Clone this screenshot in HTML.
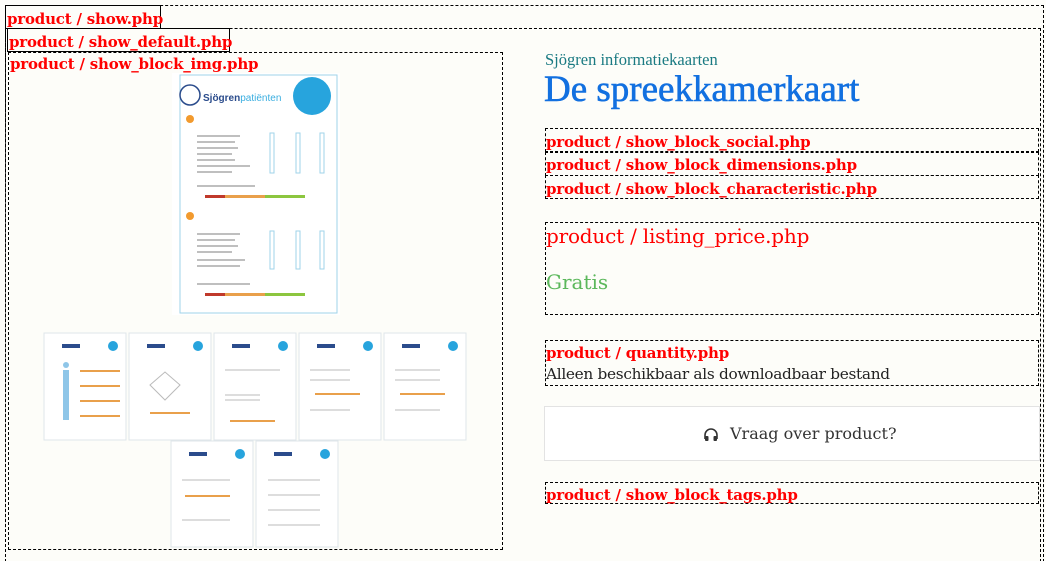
<!DOCTYPE html>
<html><head><meta charset="utf-8"><style>
html,body{margin:0;width:1046px;height:561px;overflow:hidden}
body{background:#fdfdf9;position:relative;font-family:"DejaVu Serif","Liberation Serif",serif}
#w{position:absolute;left:0;top:0;width:1046px;height:561px;overflow:hidden}
.a{position:absolute;box-sizing:border-box}
.d{border:1px dashed #000}
.s{border:1px solid #000}
.r{color:#f00;font-weight:bold;font-size:15px;line-height:20px;white-space:nowrap;letter-spacing:-0.2px}
</style></head><body><div id="w">
<div class="a d" style="left:5px;top:5px;width:1039px;height:557px"></div>
<div class="a d" style="left:5px;top:28px;width:1036px;height:534px"></div>
<div class="a s r" style="left:5px;top:5px;width:156px;height:24px;padding:3px 0 0 1px">product / show.php</div>
<div class="a s r" style="left:7px;top:28px;width:223px;height:24px;padding:3px 0 0 1px">product / show_default.php</div>
<div class="a d" style="left:8px;top:52px;width:495px;height:498px"></div>
<div class="a r" style="left:10px;top:54px">product / show_block_img.php</div>

<svg class="a" style="left:0;top:0" width="520" height="561">
 <g>
  <rect x="172" y="73" width="168" height="242" fill="#fff"/>
  <rect x="180" y="75" width="157" height="238" fill="none" stroke="#9fd3ea" stroke-width="1"/>
  <circle cx="190" cy="95" r="10" fill="none" stroke="#2b4c8c" stroke-width="1.5"/>
  <text x="203" y="101" font-family="Liberation Sans" font-weight="bold" font-size="10" fill="#2b4c8c">Sjögren<tspan fill="#3aaee0" font-weight="normal">patiënten</tspan></text>
  <circle cx="312" cy="96" r="19" fill="#27a4dd"/>
  <circle cx="190" cy="119" r="4" fill="#f29a2e"/>
  <circle cx="190" cy="216" r="4" fill="#f29a2e"/>
  <g stroke="#999" stroke-width="1.2">
   <line x1="197" y1="136" x2="240" y2="136"/><line x1="197" y1="142" x2="235" y2="142"/><line x1="197" y1="148" x2="238" y2="148"/><line x1="197" y1="154" x2="232" y2="154"/><line x1="197" y1="160" x2="235" y2="160"/><line x1="197" y1="166" x2="250" y2="166"/><line x1="197" y1="172" x2="232" y2="172"/>
   <line x1="197" y1="234" x2="240" y2="234"/><line x1="197" y1="240" x2="235" y2="240"/><line x1="197" y1="246" x2="238" y2="246"/><line x1="197" y1="252" x2="232" y2="252"/><line x1="197" y1="260" x2="245" y2="260"/><line x1="197" y1="266" x2="240" y2="266"/>
   <line x1="197" y1="186" x2="255" y2="186"/><line x1="197" y1="284" x2="250" y2="284"/>
  </g>
  <g fill="none" stroke="#9fd3ea"><rect x="270" y="133" width="4" height="40"/><rect x="296" y="133" width="4" height="40"/><rect x="320" y="133" width="4" height="40"/><rect x="270" y="231" width="4" height="38"/><rect x="296" y="231" width="4" height="38"/><rect x="320" y="231" width="4" height="38"/></g>
  <rect x="205" y="195" width="100" height="3" fill="#e9a04b"/>
  <rect x="205" y="293" width="100" height="3" fill="#e9a04b"/>
  <rect x="265" y="195" width="40" height="3" fill="#8cc63f"/>
  <rect x="265" y="293" width="40" height="3" fill="#8cc63f"/>
  <rect x="205" y="195" width="20" height="3" fill="#c0392b"/>
  <rect x="205" y="293" width="20" height="3" fill="#c0392b"/>
 </g>
 <g>
  <rect x="44" y="333" width="82" height="107" fill="#fff" stroke="#dfe6ea"/>
  <rect x="129" y="333" width="82" height="107" fill="#fff" stroke="#dfe6ea"/>
  <rect x="214" y="333" width="82" height="107" fill="#fff" stroke="#dfe6ea"/>
  <rect x="299" y="333" width="82" height="107" fill="#fff" stroke="#dfe6ea"/>
  <rect x="384" y="333" width="82" height="107" fill="#fff" stroke="#dfe6ea"/>
  <rect x="171" y="441" width="82" height="106" fill="#fff" stroke="#dfe6ea"/>
  <rect x="256" y="441" width="82" height="106" fill="#fff" stroke="#dfe6ea"/>
  <g fill="#27a4dd"><circle cx="113" cy="346" r="5"/><circle cx="198" cy="346" r="5"/><circle cx="283" cy="346" r="5"/><circle cx="368" cy="346" r="5"/><circle cx="453" cy="346" r="5"/><circle cx="240" cy="454" r="5"/><circle cx="325" cy="454" r="5"/></g>
  <g fill="#2b4c8c"><rect x="62" y="344" width="18" height="4"/><rect x="147" y="344" width="18" height="4"/><rect x="232" y="344" width="18" height="4"/><rect x="317" y="344" width="18" height="4"/><rect x="402" y="344" width="18" height="4"/><rect x="189" y="452" width="18" height="4"/><rect x="274" y="452" width="18" height="4"/></g>
  <path d="M63 370 h6 v50 h-6z" fill="#8fc6e8"/>
  <circle cx="66" cy="365" r="3" fill="#8fc6e8"/>
  <polygon points="150,385 165,372 180,385 165,400" fill="none" stroke="#bbb"/>
  <g stroke="#bbb"><line x1="225" y1="370" x2="280" y2="370"/><line x1="225" y1="395" x2="260" y2="395"/><line x1="225" y1="400" x2="260" y2="400"/><line x1="310" y1="370" x2="350" y2="370"/><line x1="310" y1="380" x2="350" y2="380"/><line x1="310" y1="410" x2="350" y2="410"/><line x1="395" y1="370" x2="440" y2="370"/><line x1="395" y1="380" x2="440" y2="380"/><line x1="395" y1="410" x2="440" y2="410"/><line x1="182" y1="480" x2="230" y2="480"/><line x1="182" y1="520" x2="230" y2="520"/><line x1="268" y1="480" x2="320" y2="480"/><line x1="268" y1="495" x2="320" y2="495"/><line x1="268" y1="510" x2="320" y2="510"/><line x1="268" y1="525" x2="320" y2="525"/></g>
  <g fill="#e9a04b"><rect x="80" y="370" width="40" height="2"/><rect x="80" y="385" width="40" height="2"/><rect x="80" y="400" width="40" height="2"/><rect x="80" y="415" width="40" height="2"/><rect x="150" y="412" width="40" height="2"/><rect x="230" y="420" width="45" height="2"/><rect x="315" y="393" width="45" height="2"/><rect x="400" y="393" width="45" height="2"/><rect x="185" y="495" width="45" height="2"/></g>
 </g>
</svg>

<div class="a" style="left:545px;top:50px;color:#1a7a82;font-family:'Liberation Serif',serif;font-size:16.5px">Sjögren informatiekaarten</div>
<div class="a" style="left:544px;top:68px;color:#1270e0;white-space:nowrap;font-family:'Liberation Serif',serif;font-size:37px;-webkit-text-stroke:0.6px #1270e0">De spreekkamerkaart</div>

<div class="a d" style="left:545px;top:128px;width:494px;height:24px"></div>
<div class="a r" style="left:546px;top:132px">product / show_block_social.php</div>
<div class="a d" style="left:545px;top:152px;width:494px;height:24px"></div>
<div class="a r" style="left:546px;top:155px">product / show_block_dimensions.php</div>
<div class="a d" style="left:545px;top:175px;width:494px;height:24px"></div>
<div class="a r" style="left:546px;top:179px">product / show_block_characteristic.php</div>

<div class="a d" style="left:545px;top:222px;width:494px;height:93px"></div>
<div class="a" style="left:546px;top:224px;color:#f00;font-size:20px;white-space:nowrap;letter-spacing:-0.2px">product / listing_price.php</div>
<div class="a" style="left:546px;top:270px;color:#5cb85c;font-size:20px">Gratis</div>

<div class="a d" style="left:545px;top:340px;width:494px;height:46px"></div>
<div class="a r" style="left:546px;top:343px">product / quantity.php</div>
<div class="a" style="left:546px;top:365px;font-size:15.3px;color:#222;white-space:nowrap;letter-spacing:-0.3px">Alleen beschikbaar als downloadbaar bestand</div>

<div class="a" style="left:544px;top:406px;width:496px;height:55px;background:#fff;border:1px solid #e3e3e3"></div>
<svg class="a" style="left:703px;top:427px" width="16" height="16"><path d="M2 12 V8 a6 6 0 0 1 12 0 V12" fill="none" stroke="#333" stroke-width="1.6"/><rect x="2" y="9" width="3.5" height="5" rx="1" fill="#333"/><rect x="10.5" y="9" width="3.5" height="5" rx="1" fill="#333"/></svg>
<div class="a" style="left:730px;top:424px;font-size:16px;color:#333;white-space:nowrap">Vraag over product?</div>

<div class="a d" style="left:545px;top:482px;width:494px;height:22px"></div>
<div class="a r" style="left:546px;top:485px">product / show_block_tags.php</div>
</div></body></html>
